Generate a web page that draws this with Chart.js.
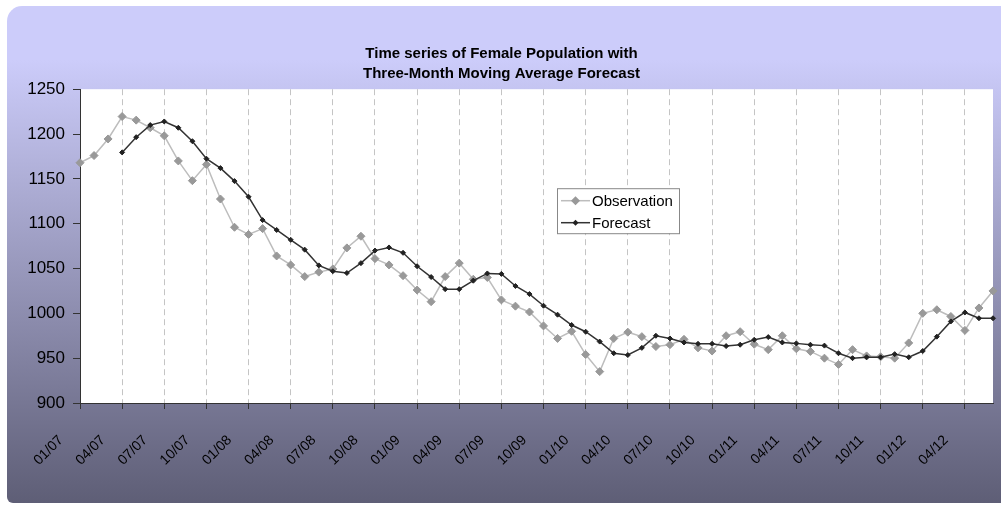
<!DOCTYPE html>
<html>
<head>
<meta charset="utf-8">
<title>Female Population - Moving Average Forecast</title>
<script src="https://cdn.jsdelivr.net/npm/chart.js@4.4.0/dist/chart.umd.min.js"></script>
<style>
  html, body { margin: 0; padding: 0; background: #fff; }
  canvas { display: block; }
</style>
</head>
<body>
<canvas id="chartPopulation" width="1001" height="505"></canvas>
<script>
const months = [
    '01/07', '02/07', '03/07', '04/07', '05/07', '06/07', '07/07', '08/07', '09/07', '10/07', '11/07', '12/07',
    '01/08', '02/08', '03/08', '04/08', '05/08', '06/08', '07/08', '08/08', '09/08', '10/08', '11/08', '12/08',
    '01/09', '02/09', '03/09', '04/09', '05/09', '06/09', '07/09', '08/09', '09/09', '10/09', '11/09', '12/09',
    '01/10', '02/10', '03/10', '04/10', '05/10', '06/10', '07/10', '08/10', '09/10', '10/10', '11/10', '12/10',
    '01/11', '02/11', '03/11', '04/11', '05/11', '06/11', '07/11', '08/11', '09/11', '10/11', '11/11', '12/11',
    '01/12', '02/12', '03/12', '04/12', '05/12', '06/12'
]

const observation = [
    1168, 1176, 1194.5, 1219.5, 1215.5, 1207, 1198, 1170, 1148, 1166, 1127.5, 1096,
    1088, 1094.5, 1064, 1054, 1041, 1046, 1049.5, 1073, 1086, 1061, 1054, 1042,
    1026, 1013, 1041, 1056, 1038, 1040, 1015, 1008, 1001.5, 986, 972, 980,
    954, 935, 972, 979, 974, 963, 965, 971, 961.5, 958, 975, 979.5,
    965.5, 959.5, 975, 960.5, 957.5, 950, 943, 959.5, 952.5, 951.5, 950, 967,
    1000, 1004, 996.5, 981, 1006, 1025
]

const forecast = [
    null, null, null, 1179.5, 1196.5, 1210, 1214, 1207, 1192, 1172.5, 1162, 1147.5,
    1130, 1104, 1093, 1082, 1071, 1053.5, 1047, 1045, 1056, 1070, 1073.5, 1067.5,
    1052.5, 1040.5, 1027, 1027, 1036.5, 1044.5, 1044, 1030.5, 1021.5, 1008.5, 998.5, 987,
    979.5, 968.5, 955.5, 953.5, 961.5, 975, 972, 967.5, 966, 966, 963.5, 965,
    970.5, 973.5, 967.5, 966.5, 965, 964, 955.5, 950, 951, 951, 954.5, 951,
    958, 974, 991, 1001, 994.5, 994.5
]

const titleLines = ['Time series of Female Population with', 'Three-Month Moving Average Forecast']
const yMin = 900
const yMax = 1250
const yStep = 50
const labelEvery = 3

const fontFamily = '"Liberation Sans", Arial, Helvetica, sans-serif'
Chart.defaults.font.family = fontFamily
Chart.defaults.color = '#000'

// gradient frame behind the chart and white plot area
const frame = {
    id: 'frame',
    beforeDraw: (chart) => {
        const { ctx, width, height, chartArea } = chart
        ctx.save()
        ctx.fillStyle = '#ffffff'
        ctx.fillRect(0, 0, width, height)
        const grad = ctx.createLinearGradient(0, 60, 0, 503)
        grad.addColorStop(0, '#ccccfa')
        grad.addColorStop(1, '#5e5e76')
        ctx.fillStyle = grad
        ctx.beginPath()
        ctx.roundRect(7, 6, width + 20, 497, [15, 0, 0, 6])
        ctx.fill()
        ctx.fillStyle = '#ffffff'
        ctx.fillRect(chartArea.left, chartArea.top, chartArea.right - chartArea.left, chartArea.bottom - chartArea.top)
        ctx.restore()
    }
}

const diamond = (ctx, x, y, r) => {
    ctx.beginPath()
    ctx.moveTo(x - r, y)
    ctx.lineTo(x, y - r)
    ctx.lineTo(x + r, y)
    ctx.lineTo(x, y + r)
    ctx.closePath()
    ctx.fill()
}

// legend box inside the plot, like the original
const legendBox = {
    id: 'legendBox',
    afterDraw: (chart) => {
        const { ctx, chartArea } = chart
        const x = chartArea.left + 477
        const y = chartArea.top + 99
        const w = 122
        const h = 45
        ctx.save()
        ctx.fillStyle = '#ffffff'
        ctx.fillRect(x, y, w, h)
        ctx.strokeStyle = '#888888'
        ctx.lineWidth = 1
        ctx.strokeRect(x + 0.5, y + 0.5, w, h)
        chart.data.datasets.forEach((ds, i) => {
            const cy = y + 12.5 + i * 22
            ctx.strokeStyle = ds.borderColor
            ctx.lineWidth = ds.borderWidth
            ctx.beginPath()
            ctx.moveTo(x + 4, cy)
            ctx.lineTo(x + 33, cy)
            ctx.stroke()
            ctx.fillStyle = ds.pointBackgroundColor
            diamond(ctx, x + 18.5, cy, ds.pointRadius + 0.5)
            ctx.fillStyle = '#000'
            ctx.font = '15px ' + fontFamily
            ctx.textBaseline = 'middle'
            ctx.textAlign = 'left'
            ctx.fillText(ds.label, x + 35, cy + 1)
        })
        ctx.restore()
    }
}

const canvas = document.getElementById('chartPopulation')
const context = canvas.getContext('2d')

const chartPopulation = new Chart(context, {
    type: 'line',
    data: {
        labels: months,
        datasets: [
            {
                label: 'Observation',
                data: observation,
                borderColor: '#bdbdbd',
                borderWidth: 1.5,
                pointStyle: 'rectRot',
                pointRadius: 4,
                pointBackgroundColor: '#999999',
                pointBorderColor: '#999999',
                pointBorderWidth: 1,
                tension: 0,
                order: 1
            },
            {
                label: 'Forecast',
                data: forecast,
                borderColor: '#333333',
                borderWidth: 1.5,
                pointStyle: 'rectRot',
                pointRadius: 2.5,
                pointBackgroundColor: '#222222',
                pointBorderColor: '#222222',
                pointBorderWidth: 1,
                tension: 0,
                order: 0
            }
        ]
    },
    options: {
        responsive: false,
        animation: false,
        layout: { padding: { left: 2, right: 0, top: 0, bottom: 0 } },
        plugins: {
            legend: { display: false },
            tooltip: { enabled: false },
            title: {
                display: true,
                text: titleLines,
                color: '#000',
                font: { size: 15, weight: 'bold', lineHeight: 1.34 },
                padding: { top: 44, bottom: 5 }
            }
        },
        scales: {
            x: {
                ticks: {
                    autoSkip: false,
                    maxRotation: 45,
                    minRotation: 45,
                    font: { size: 14 },
                    padding: 23,
                    labelOffset: -19,
                    // months without a label are dropped, with their grid line
                    callback: (value, index) => index % labelEvery === 0 ? months[index] : null
                },
                grid: {
                    color: '#c4c4c4',
                    tickColor: '#333333',
                    lineWidth: 1,
                    tickLength: 6
                },
                border: { color: '#333333', width: 1, dash: [6, 4] },
                afterFit: (scale) => { scale.height = 102 }
            },
            y: {
                min: yMin,
                max: yMax,
                ticks: { stepSize: yStep, font: { size: 17 }, padding: 8, callback: (value) => String(value) },
                grid: { drawOnChartArea: false, tickLength: 7, tickColor: '#333333' },
                border: { color: '#333333', width: 1 },
                afterFit: (scale) => { scale.width = 78 }
            },
            yRight: {
                position: 'right',
                ticks: { display: false },
                grid: { display: false },
                border: { display: false },
                afterFit: (scale) => { scale.width = 8 }
            }
        }
    },
    plugins: [frame, legendBox]
})
</script>
</body>
</html>
